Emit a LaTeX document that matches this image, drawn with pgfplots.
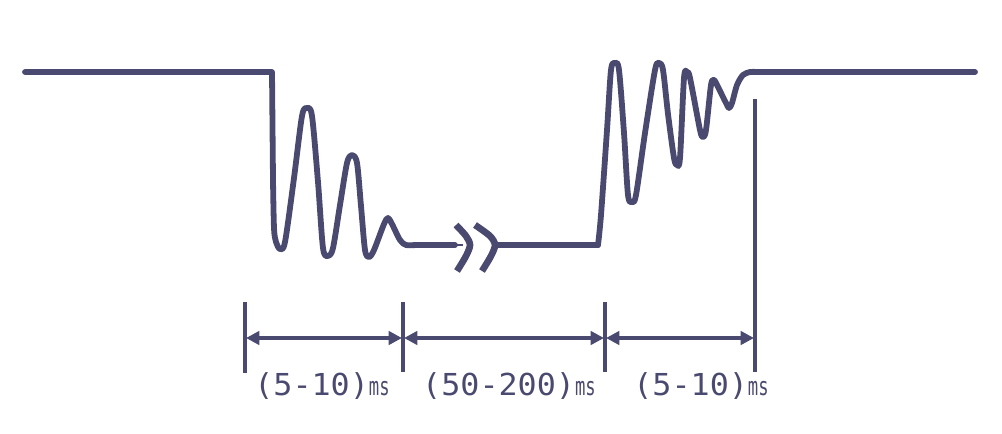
\documentclass[border=0pt]{standalone}
\usepackage{pgfplots}
\pgfplotsset{compat=1.18}
\usepackage{fontspec}
\usetikzlibrary{arrows.meta}
\newfontfamily\labn[FakeStretch=1.05]{DejaVu Sans Mono}
\newfontfamily\labm[FakeStretch=0.68]{DejaVu Sans Mono}
\definecolor{sl}{RGB}{74,74,112}
\newcommand{\lbl}[1]{{\fontsize{8.6pt}{10pt}\labn(#1)}{\fontsize{7.2pt}{8pt}\labm ms}}
\begin{document}
\begin{tikzpicture}
\begin{axis}[width=10.02cm,height=4.33cm,scale only axis,hide axis,
  xmin=0,xmax=1002,ymin=0,ymax=433,y dir=reverse,clip=false,
  wave/.style={sl,line width=1.65pt,line join=round,line cap=round,no marks},
  bar/.style={sl,line width=1.25pt,no marks},
  arr/.style={sl,line width=1.15pt,no marks,{Triangle[length=3.8pt,width=3.8pt]}-{Triangle[length=3.8pt,width=3.8pt]}}]
\path (rel axis cs:0,0) rectangle (rel axis cs:1,1);
% left high level and falling edge
\addplot[wave,sharp plot] coordinates {(25,72)(272,72)(273,180)};
\addplot[wave,smooth,tension=0.5] coordinates {(273,180)(274,228)(276,242)(280,249)(285,242)(294,178)(302,116)(307,108)(312,116)(318,182)(323,248)(328,256)(333,248)(340,205)(347,163)(352,155)(357,163)(361,206)(365,250)(369,257)(374,250)(384,224)(388,218)(392,224)(400,240)(406,245)(416,245)};
\addplot[wave,sharp plot] coordinates {(414,245)(455,245)};
\addplot[sl,line width=0.4pt,no marks] coordinates {(455,245)(463,245)};
% chevrons
\addplot[wave,smooth,tension=0.5,line width=1.9pt,line cap=butt] coordinates {(456,225)(466,236)(470,245)(466,256)(457,271)};
\addplot[wave,smooth,tension=0.5,line width=1.9pt,line cap=butt] coordinates {(475,225)(490,236)(495,245)(491,256)(482,271)};
% low level and rising edge
\addplot[wave,sharp plot] coordinates {(495,245)(598,245)};
\addplot[wave,smooth,tension=0.5] coordinates {(598,245)(601,215)(607,130)(611,70)(615,63)(619,70)(624,133)(628,195)(632,202)(636,195)(645,133)(655,70)(659,63)(663,70)(668,114)(674,158)(677,165)(680,158)(684,78)(687,72)(690,78)(700,130)(703,137)(706,130)(711,85)(714,80)(717,85)(726,103)(729,108)(732,103)(737,85)(743,75)(750,72)(756,72)};
\addplot[wave,sharp plot] coordinates {(754,72)(975,72)};
% marker bars
\addplot[bar] coordinates {(245,302)(245,373)};
\addplot[bar] coordinates {(403,302)(403,372)};
\addplot[bar] coordinates {(605,302)(605,372)};
\addplot[bar] coordinates {(755,99)(755,372)};
% arrows
\addplot[arr] coordinates {(246,338)(402,338)};
\addplot[arr] coordinates {(404,338)(604,338)};
\addplot[arr] coordinates {(606,338)(754,338)};
% labels
\node[sl,inner sep=0pt,anchor=base] at (axis cs:322,395) {\lbl{5-10}};
\node[sl,inner sep=0pt,anchor=base] at (axis cs:509,395) {\lbl{50-200}};
\node[sl,inner sep=0pt,anchor=base] at (axis cs:701,395) {\lbl{5-10}};
\end{axis}
\end{tikzpicture}
\end{document}
